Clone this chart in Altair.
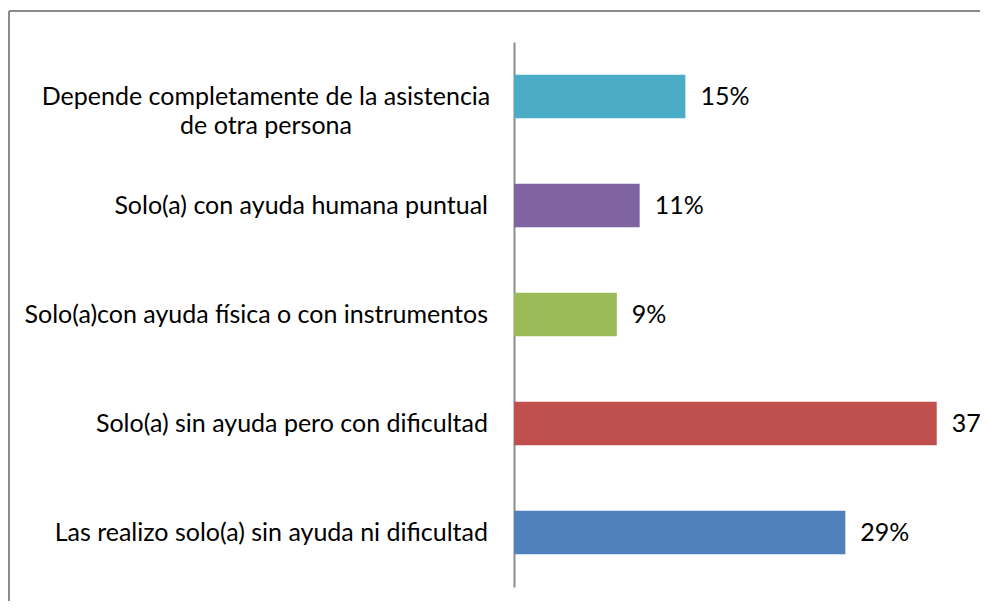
import altair as alt
import pandas as pd

categories = [
    "Depende completamente de la asistencia\nde otra persona",
    "Solo(a) con ayuda humana puntual",
    "Solo(a)con ayuda física o con instrumentos",
    "Solo(a) sin ayuda pero con dificultad",
    "Las realizo solo(a) sin ayuda ni dificultad",
]
values = [0.15, 0.11, 0.09, 0.37, 0.29]
colors = ["#4BACC6", "#8064A2", "#9BBB59", "#C0504D", "#4F81BD"]

df = pd.DataFrame({"cat": categories, "val": values})
df["multi"] = df["cat"].str.contains("\n")

FONT = "Lato"
FS = 25

y = alt.Y("cat:N", sort=categories,
          scale=alt.Scale(paddingInner=0.6, paddingOuter=0.3),
          axis=alt.Axis(labels=False, ticks=False, title=None, grid=False,
                        domainColor="#8c8c8c", domainWidth=2))
x = alt.X("val:Q", scale=alt.Scale(domain=[0, 0.4], nice=False), axis=None)

base = alt.Chart(df)

bars = base.mark_bar().encode(
    x=x, y=y,
    color=alt.Color("cat:N", scale=alt.Scale(domain=categories, range=colors), legend=None),
)

vals = base.mark_text(align="left", baseline="middle", dx=15, font=FONT,
                      fontSize=FS, color="#000000").encode(
    x=x, y=alt.Y("cat:N", sort=categories), text=alt.Text("val:Q", format=".0%"))

single = base.transform_filter("!datum.multi").mark_text(
    align="right", baseline="middle", dx=-26, font=FONT, fontSize=FS, color="#000000"
).encode(x=alt.value(0), y=alt.Y("cat:N", sort=categories), text="cat:N")

multi = base.transform_filter("datum.multi").mark_text(
    align="center", baseline="middle", lineBreak="\n", lineHeight=29,
    font=FONT, fontSize=FS, color="#000000"
).encode(x=alt.value(-248), y=alt.Y("cat:N", sort=categories), text="cat:N")

frame_left = base.mark_rule(color="#8c8c8c", strokeWidth=2).encode(
    x=alt.value(-505), y=alt.value(-31), y2=alt.value(600))
frame_top = base.mark_rule(color="#8c8c8c", strokeWidth=2).encode(
    x=alt.value(-505), x2=alt.value(500), y=alt.value(-31))

chart = alt.layer(bars, vals, single, multi, frame_left, frame_top).properties(
    width=457, height=545,
    background="#ffffff",
    autosize=alt.AutoSizeParams(type="none"),
    padding={"left": 506, "top": 34, "right": 9, "bottom": 14},
).configure_view(stroke="transparent", strokeWidth=0)

chart.save("out.html", embed_options={"renderer": "svg", "actions": False})
